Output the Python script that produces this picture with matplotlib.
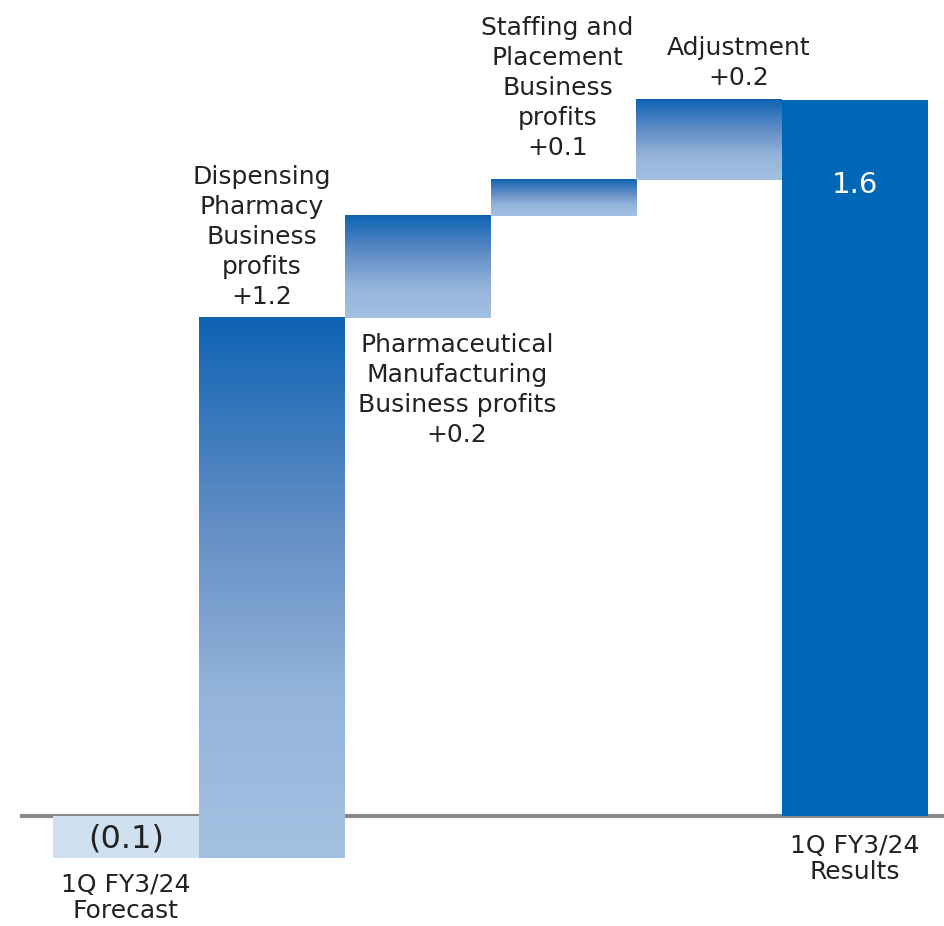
import numpy as np
import matplotlib.pyplot as plt
from matplotlib.colors import LinearSegmentedColormap

# values (unrounded where the bar heights show it)
steps = ['1Q FY3/24\nForecast', 'Dispensing\nPharmacy\nBusiness\nprofits',
         'Pharmaceutical\nManufacturing\nBusiness profits',
         'Staffing and\nPlacement\nBusiness\nprofits', 'Adjustment', '1Q FY3/24\nResults']
forecast = -0.093
changes = [1.2, 0.227, 0.08, 0.178]
shown = ['(0.1)', '+1.2', '+0.2', '+0.1', '+0.2', '1.6']

grad = LinearSegmentedColormap.from_list(
    'g', [(0, '#a3c1e2'), (0.3, '#94b4da'), (0.6, '#6690c6'), (1, '#0f63b4')])

fig = plt.figure(figsize=(9.45, 9.26), dpi=100)
ax = fig.add_axes([0, 0, 1, 1])
ax.set_xlim(-0.864, 5.617)
ax.set_ylim(-0.2444, 1.8133)
ax.axis('off')

w = 1.0
# start bar
ax.bar(0, forecast, width=w, color='#cfe0f1', zorder=2)
# floating bars with gradient
level = forecast
for i, d in enumerate(changes, start=1):
    lo, hi = level, level + d
    g = np.linspace(0, 1, 256).reshape(-1, 1)
    ax.imshow(g, cmap=grad, origin='lower', aspect='auto',
              extent=(i - w / 2, i + w / 2, lo, hi), zorder=2)
    level = hi
total = level
ax.bar(5, total, width=w, color='#0066b6', zorder=2)

ax.plot([-0.727, 5.617], [0, 0], color='#888888', lw=3, zorder=1,
        solid_capstyle='butt')

fs = 18
ls = 1.32
ax.text(0, forecast / 2 - 0.005, shown[0], ha='center', va='center', fontsize=23, color='#222222', zorder=3)
ax.text(0, -0.127, steps[0], ha='center', va='top', fontsize=fs, color='#222222', linespacing=1.1)
ax.text(5, total - 0.19, shown[5], ha='center', va='center', fontsize=21, color='white', zorder=3)
ax.text(5, -0.04, steps[5], ha='center', va='top', fontsize=fs, color='#222222', linespacing=1.1)

# labels of the steps
lvl = forecast
tops = []
for d in changes:
    lvl += d
    tops.append(lvl)
ax.text(0.93, tops[0] + 0.02, steps[1] + '\n' + shown[1], ha='center', va='bottom',
        fontsize=fs, color='#222222', linespacing=ls)
ax.text(2.27, tops[0] - 0.033, steps[2] + '\n' + shown[2], ha='center', va='top',
        fontsize=fs, color='#222222', linespacing=ls)
ax.text(2.96, tops[2] + 0.043, steps[3] + '\n' + shown[3], ha='center', va='bottom',
        fontsize=fs, color='#222222', linespacing=ls)
ax.text(4.2, tops[3] + 0.022, steps[4] + '\n' + shown[4], ha='center', va='bottom',
        fontsize=fs, color='#222222', linespacing=ls)

fig.savefig('out.png', dpi=100, facecolor='white')
